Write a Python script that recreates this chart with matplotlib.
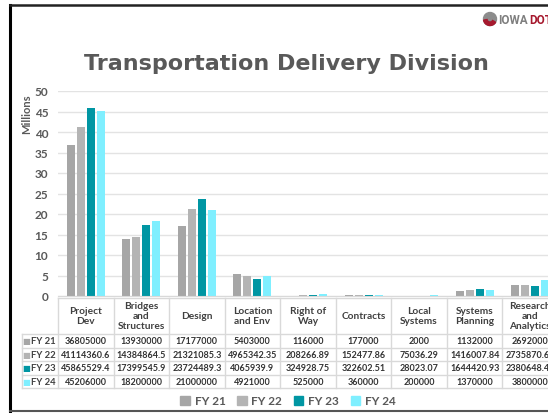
import matplotlib
matplotlib.use("Agg")
import matplotlib.pyplot as plt
import numpy as np
from matplotlib.lines import Line2D
from matplotlib.patches import Patch, Circle, Wedge

# chart data (dollars)
categories = ["Project\nDev", "Bridges\nand\nStructures", "Design", "Location\nand Env",
              "Right of\nWay", "Contracts", "Local\nSystems", "Systems\nPlanning",
              "Research\nand\nAnalytics"]
years = ["FY 21", "FY 22", "FY 23", "FY 24"]
fy21 = [36805000, 13930000, 17177000, 5403000, 116000, 177000, 2000, 1132000, 2692000]
fy22 = [41114360.6, 14384864.5, 21321085.3, 4965342.35, 208266.89, 152477.86, 75036.29,
        1416007.84, 2735870.68]
fy23 = [45865529.4, 17399545.9, 23724489.3, 4065939.9, 324928.75, 322602.51, 28023.07,
        1644420.93, 2380648.45]
fy24 = [45206000, 18200000, 21000000, 4921000, 525000, 360000, 200000, 1370000, 3800000]
series = [fy21, fy22, fy23, fy24]
colors = ["#A6A6A6", "#B4B4B4", "#0096A3", "#7FEFFF"]

plt.rcParams['font.family'] = ['Lato', 'DejaVu Sans']

W, H = 548, 414
fig = plt.figure(figsize=(W / 100, H / 100), dpi=100)
fig.patch.set_facecolor("white")

def fx(px):
    return px / W

def fy(py):
    return 1 - py / H

# slide frame
fig.add_artist(Line2D([fx(10), fx(10)], [fy(6), fy(412)], color="black", lw=2.2))
fig.add_artist(Line2D([fx(10), fx(548)], [fy(6), fy(6)], color="#222222", lw=1.8))
fig.add_artist(Line2D([fx(10), fx(548)], [fy(412), fy(412)], color="#555555", lw=1.5))

# logo
fig.add_artist(Circle((4.90, (H - 20) / 100), 0.065, transform=fig.dpi_scale_trans,
                      color="#8C8C8C"))
fig.add_artist(Wedge((4.90, (H - 20) / 100), 0.065, 190, 330, width=0.035,
                     transform=fig.dpi_scale_trans, color="#A6192E"))
fig.text(fx(498), fy(20), "IOWA", fontsize=8.5, fontweight="bold", color="#7F7F7F",
         family="Roboto", va="center", ha="left")
fig.text(fx(529), fy(20), "DOT", fontsize=8.5, fontweight="bold", color="#A6192E",
         family="Roboto", va="center", ha="left")

fig.text(fx(286), fy(64), "Transportation Delivery Division", fontsize=16,
         fontweight="bold", color="#595959", family="DejaVu Sans", ha="center", va="center")

# main chart
cat_w = 55.56
ax = fig.add_axes([fx(58), fy(297), 9 * cat_w / W, 205 / H])
x = np.arange(len(categories))
for i, vals in enumerate(series):
    ax.bar(x + (i - 1.5) * 0.18, np.array(vals) / 1e6, width=0.145, color=colors[i])
ax.set_xlim(-0.5, 8.5)
ax.set_ylim(0, 50)
ax.set_yticks(range(0, 51, 5))
ax.set_xticks([])
ax.yaxis.grid(True, color="#E3E3E3", lw=1)
ax.set_axisbelow(True)
for s in ["top", "right", "left"]:
    ax.spines[s].set_visible(False)
ax.spines["bottom"].set_color("#D9D9D9")
ax.tick_params(axis="y", length=0, pad=7, labelsize=8.5, labelcolor="#595959")
for t in ax.get_yticklabels():
    t.set_fontweight("bold")
fig.text(fx(27), fy(114), "Millions", rotation=90, fontsize=8, fontweight="bold",
         color="#595959", ha="center", va="center")

# data table under the chart
tab = fig.add_axes([fx(58), fy(389), 9 * cat_w / W, 90 / H])
tab.set_xlim(-0.5, 8.5)
tab.set_ylim(90, 0)
tab.axis("off")
edges = [36, 49.5, 63, 76.5, 90]
x_left = -0.5 - 36 / cat_w
lc = "#D9D9D9"
tab.plot([-0.5, 8.5], [0, 0], color=lc, lw=1, clip_on=False)
for e in edges:
    tab.plot([x_left, 8.5], [e, e], color=lc, lw=1, clip_on=False)
for k in range(10):
    tab.plot([k - 0.5, k - 0.5], [0, 90], color=lc, lw=1, clip_on=False)
tab.plot([x_left, x_left], [36, 90], color=lc, lw=1, clip_on=False)

for j, name in enumerate(categories):
    tab.text(j, 17.5, name, ha="center", va="center", fontsize=7.3, fontweight="bold",
             color="#404040", linespacing=1.15, clip_on=False)
for i, vals in enumerate(series):
    yc = (edges[i] + edges[i + 1]) / 2
    tab.text(x_left + 0.08, yc, "■", color=colors[i], fontsize=6, ha="center",
             va="center", family="DejaVu Sans", clip_on=False)
    tab.text(x_left + 0.17, yc, years[i], fontsize=6.8, fontweight="bold", color="#404040",
             ha="left", va="center", clip_on=False)
    for j, v in enumerate(vals):
        tab.text(j, yc, "{:.10g}".format(v), fontsize=6.5, fontweight="bold",
                 color="#333333", ha="center", va="center", clip_on=False)

handles = [Patch(color=c) for c in colors]
fig.legend(handles, years, loc="center", bbox_to_anchor=(fx(288), fy(402)), ncol=4,
           frameon=False, prop={"weight": "bold", "size": 8.5}, labelcolor="#595959",
           handlelength=0.8, handleheight=0.8, columnspacing=1.0, handletextpad=0.4)

fig.savefig("out.png", dpi=100)
